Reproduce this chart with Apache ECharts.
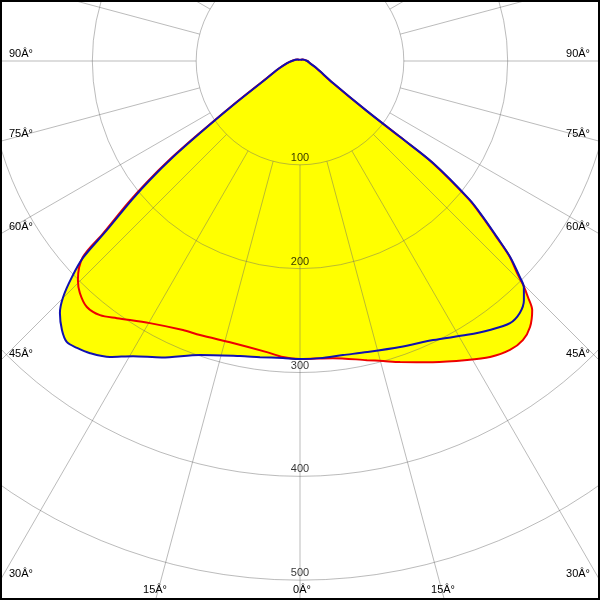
<!DOCTYPE html>
<html><head><meta charset="utf-8">
<script src="https://cdn.jsdelivr.net/npm/echarts@6/dist/echarts.min.js"></script>
<style>html,body{margin:0;padding:0;background:#fff}#c{width:600px;height:600px}</style>
</head><body><div id="c"></div>
<script>
// Blue curve (degrees from nadir, negative = left; values in cd)
const blueAngles = [-180,-150,-120,-90,-80,-70,-62.5,-56.6,-54.2,-52.9,-51.6,-50.45,-48.8,-47.8,-46.55,-45.1,-43.6,-41.5,-39.7,-37.85,-35.7,-32.7,-29.5,-25,-18.8,-11.5,-7.7,-3.3,0,3.85,8.3,13,19.3,25.5,31.4,35.2,38.7,41.1,43.1,44.7,45.5,47,48.2,49.55,50.7,52.5,52.8,53.2,56.2,66.4,77,90,120,150,180];
const blueValues = [1,1.5,3,8,13,22,36,77,119,153,184.5,210,247,282,302.6,322,335.3,346,351.7,350,346.5,338.8,326.6,315,299,290,287.8,286.6,287,286.8,286.2,287.7,291.9,297.8,309,317,323.5,322,315.6,306.5,297,276.7,254.5,231.7,211.6,161.5,122,81,38.6,17.5,10,7,3,1.5,1];
// Red curve
const redAngles = [-180,-150,-120,-90,-80,-70,-62.5,-56.6,-54.2,-52.9,-51.6,-50.45,-48.8,-47.9,-45.4,-43.5,-40.9,-38.2,-35.45,-29.8,-23.5,-20.05,-13.4,-6.5,-3.3,0,6.3,12.6,15.5,18.4,23.8,29.2,32.7,36,38.6,40.85,43,44,44.9,45.7,47,48.2,49.55,50.7,52.5,52.8,53.2,56.2,66.4,77,90,120,150,180];
const redValues = [1,1.5,3,8,13,22,37,79,122,157,189,215,252,282,300.4,308,313.5,311.5,304,290.9,282.6,281,279.2,282.2,285.6,287,287.9,295.2,299.9,305.6,317,330,338.8,344,344,338.7,327.9,316,304.5,292,276,253,230,210,160,120,80,38,17,10,7,3,1.5,1];
// Tick labels
const radiusTicks = [100,200,300,400,500];
const sideAngleLabels = ['90Â°','75Â°','60Â°','45Â°','30Â°'];
const bottomAngleLabels = ['15Â°','0Â°','15Â°'];

const toPairs = (angles, values) => angles.map((a, i) => [values[i], a]);
const CENTER = [300, 61];
const OUTER = 623; // 600 cd
const gridStyle = {color: 'rgba(105,105,105,0.45)', width: 1};
const font = {fontFamily: '"Liberation Sans", Arial, sans-serif', fontSize: 11, color: '#000'};

const chart = echarts.init(document.getElementById('c'), null, {renderer: 'canvas', width: 600, height: 600});

function txt(text, x, y, align) {
  return {type: 'text', z: 50, silent: true, style: {text: text, x: x, y: y, fill: '#000',
    font: '11px "Liberation Sans", Arial, sans-serif', align: align, textAlign: align,
    verticalAlign: 'middle', textVerticalAlign: 'middle'}};
}
const sideY = [54, 134, 227, 354, 574];
const graphics = [];
sideAngleLabels.forEach((t, i) => {
  graphics.push(txt(t, 9, sideY[i], 'left'));
  graphics.push(txt(t, 590, sideY[i], 'right'));
});
const bottomX = [155, 302, 443];
bottomAngleLabels.forEach((t, i) => graphics.push(txt(t, bottomX[i], 590, 'center')));
graphics.push({type: 'rect', z: 100, silent: true, shape: {x: 1, y: 1, width: 598, height: 598},
  style: {fill: 'none', stroke: '#000', lineWidth: 2}});

const lineBase = {type: 'line', coordinateSystem: 'polar', polarIndex: 0, symbol: 'none', silent: true, animation: false, smooth: 0.3};

chart.setOption({
  animation: false,
  polar: [
    {center: CENTER, radius: [0, OUTER]},
    {center: CENTER, radius: [OUTER / 6, OUTER]}
  ],
  angleAxis: [
    {polarIndex: 0, type: 'value', min: -180, max: 180, startAngle: 90, clockwise: false, show: false},
    {polarIndex: 1, type: 'value', min: -180, max: 180, interval: 15, startAngle: 90, clockwise: false, z: 2,
      axisLine: {show: false}, axisTick: {show: false}, axisLabel: {show: false},
      splitLine: {show: true, lineStyle: gridStyle}}
  ],
  radiusAxis: [
    {polarIndex: 0, type: 'value', min: 0, max: 600, show: false},
    {polarIndex: 1, type: 'value', min: 100, max: 600, interval: 100, z: 2,
      axisLine: {show: false}, axisTick: {show: false}, axisLabel: {show: false},
      splitLine: {show: true, lineStyle: gridStyle}}
  ],
  graphic: graphics,
  series: [
    Object.assign({}, lineBase, {name: 'redFill', z: 1, data: toPairs(redAngles, redValues),
      lineStyle: {width: 0, opacity: 0}, areaStyle: {color: '#ffff00', opacity: 1}}),
    Object.assign({}, lineBase, {name: 'blueFill', z: 1, data: toPairs(blueAngles, blueValues),
      lineStyle: {width: 0, opacity: 0}, areaStyle: {color: '#ffff00', opacity: 1}}),
    Object.assign({}, lineBase, {name: 'red', z: 3, data: toPairs(redAngles, redValues),
      lineStyle: {color: '#ee0000', width: 2}}),
    Object.assign({}, lineBase, {name: 'blue', z: 4, data: toPairs(blueAngles, blueValues),
      lineStyle: {color: '#1010b0', width: 2}}),
    {type: 'scatter', coordinateSystem: 'polar', polarIndex: 0, z: 5, silent: true, symbolSize: 1,
      itemStyle: {color: 'transparent'},
      data: radiusTicks.map(v => [v, 0]),
      label: Object.assign({show: true, position: 'top', distance: 1, formatter: p => String(p.value[0])}, font)}
  ]
});
</script></body></html>
